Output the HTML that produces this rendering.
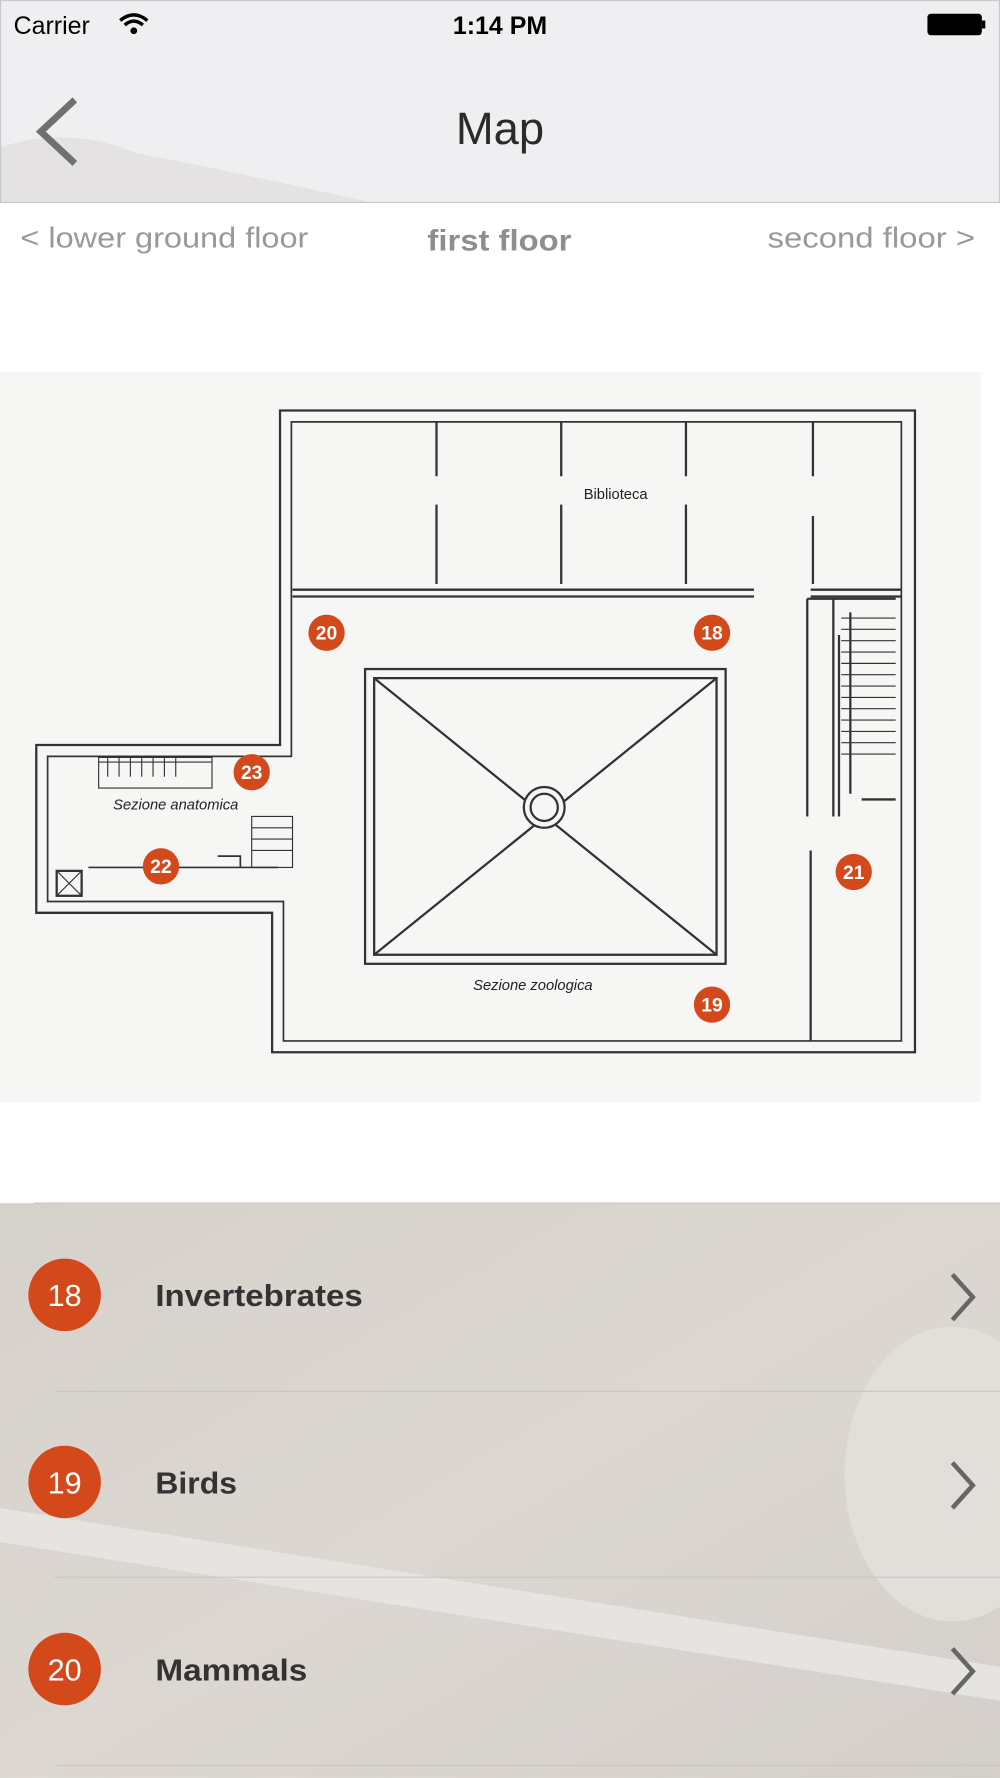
<!DOCTYPE html>
<html><head><meta charset="utf-8"><style>
html,body{margin:0;padding:0;background:#fff;width:1000px;height:1778px;overflow:hidden}
svg{display:block}
text{font-family:"Liberation Sans",sans-serif}
</style></head><body>
<svg width="1000" height="1778" viewBox="0 0 882 1568" xmlns="http://www.w3.org/2000/svg">
<defs>
<linearGradient id="lg" x1="0" y1="0" x2="1" y2="1">
<stop offset="0" stop-color="#d6d1cb"/><stop offset="0.5" stop-color="#dcd7d1"/><stop offset="1" stop-color="#d4cfca"/>
</linearGradient>
</defs>
<!-- header -->
<rect x="0" y="0" width="882" height="179" fill="#efeff1"/>
<path d="M0 130 Q60 110 120 135 Q200 150 330 179 L0 179Z" fill="#e4e2e2"/>
<rect x="0.5" y="0.5" width="881" height="178" fill="none" stroke="#c8c8ca"/>
<text x="12" y="30" font-size="22" fill="#000">Carrier</text>
<path d="M106 18 Q118 8 130 18 M110 22 Q118 15 126 22" stroke="#000" stroke-width="3" fill="none"/>
<circle cx="118" cy="27" r="3" fill="#000"/>
<text x="441" y="30" font-size="22" font-weight="bold" fill="#000" text-anchor="middle">1:14 PM</text>
<rect x="818" y="12" width="48" height="19" rx="3" fill="#000"/><rect x="866" y="18" width="3" height="7" fill="#000"/>
<path d="M66 88 L36 116 L66 144" stroke="#707070" stroke-width="6" fill="none"/>
<text x="441" y="127" font-size="40" fill="#2a2a2a" text-anchor="middle">Map</text>
<text x="18" y="218" font-size="25" fill="#999" textLength="254" lengthAdjust="spacingAndGlyphs">&lt; lower ground floor</text>
<text x="377" y="221" font-size="26" font-weight="bold" fill="#8e8e8e" textLength="127" lengthAdjust="spacingAndGlyphs">first floor</text>
<text x="677" y="218" font-size="25" fill="#999" textLength="183" lengthAdjust="spacingAndGlyphs">second floor &gt;</text>
<!-- map -->
<rect x="0" y="328" width="865" height="644" fill="#f6f6f5"/>
<g fill="none" stroke="#333" stroke-width="2">
<path d="M247 362 L807 362 L807 928 L240 928 L240 805 L32 805 L32 657 L247 657 Z"/>
<path d="M257 372 L795 372 L795 918 L250 918 L250 795 L42 795 L42 667 L257 667 Z" stroke-width="1.5"/>
<path d="M258 520 L665 520 M258 526 L665 526 M715 520 L795 520 M715 526 L795 526"/>
<path d="M385 372 V420 M385 445 V515 M495 372 V420 M495 445 V515 M605 372 V420 M605 445 V515 M717 372 V420 M717 455 V515"/>
<rect x="322" y="590" width="318" height="260"/>
<rect x="330" y="598" width="302" height="244"/>
<path d="M330 598 L632 842 M632 598 L330 842"/>
<circle cx="480" cy="712" r="18" fill="#f6f6f5"/><circle cx="480" cy="712" r="12"/>
<path d="M712 528 H790 M712 528 V720 M735 528 V720 M740 560 V720 M715 750 V918 M750 540 V700 M760 705 H790"/>
<path d="M742 545 H790 M742 555 H790 M742 565 H790 M742 575 H790 M742 585 H790 M742 595 H790 M742 605 H790 M742 615 H790 M742 625 H790 M742 635 H790 M742 645 H790 M742 655 H790 M742 665 H790" stroke-width="1"/>
<path d="M87 668 H187 V695 H87 Z M87 672 H187 M95 668 V685 M105 668 V685 M115 668 V685 M125 668 V685 M135 668 V685 M145 668 V685 M155 668 V685" stroke-width="1"/>
<path d="M222 720 H258 V765 H222 Z M222 730 H258 M222 740 H258 M222 750 H258" stroke-width="1"/>
<path d="M78 765 H245 M192 755 H212 V765" stroke-width="1.5"/>
<rect x="50" y="768" width="22" height="22"/><path d="M50 768 L72 790 M72 768 L50 790" stroke-width="1"/>
</g>
<text x="543" y="440" font-size="13" fill="#222" text-anchor="middle">Biblioteca</text>
<text x="155" y="714" font-size="13" font-style="italic" fill="#222" text-anchor="middle">Sezione anatomica</text>
<text x="470" y="873" font-size="13" font-style="italic" fill="#222" text-anchor="middle">Sezione zoologica</text>
<g font-size="17" font-weight="bold" fill="#fff" text-anchor="middle">
<circle cx="288" cy="558" r="16" fill="#d4491c"/><text x="288" y="564">20</text>
<circle cx="628" cy="558" r="16" fill="#d4491c"/><text x="628" y="564">18</text>
<circle cx="222" cy="681" r="16" fill="#d4491c"/><text x="222" y="687">23</text>
<circle cx="142" cy="764" r="16" fill="#d4491c"/><text x="142" y="770">22</text>
<circle cx="753" cy="769" r="16" fill="#d4491c"/><text x="753" y="775">21</text>
<circle cx="628" cy="886" r="16" fill="#d4491c"/><text x="628" y="892">19</text>
</g>
<!-- list -->
<rect x="0" y="1061" width="882" height="507" fill="url(#lg)"/>
<path d="M0 1330 L882 1470 L882 1500 L0 1360Z" fill="#e6e4e1"/>
<ellipse cx="840" cy="1300" rx="95" ry="130" fill="#e2dfdb"/>
<line x1="30" y1="1061" x2="882" y2="1061" stroke="#c8c6c4"/>
<line x1="48" y1="1227" x2="882" y2="1227" stroke="#c9c6c2"/>
<line x1="48" y1="1391" x2="882" y2="1391" stroke="#c9c6c2"/>
<line x1="48" y1="1557" x2="882" y2="1557" stroke="#c9c6c2"/>
<g font-size="27" fill="#fff" text-anchor="middle">
<circle cx="57" cy="1142" r="32" fill="#d4491c"/><text x="57" y="1152">18</text>
<circle cx="57" cy="1307" r="32" fill="#d4491c"/><text x="57" y="1317">19</text>
<circle cx="57" cy="1472" r="32" fill="#d4491c"/><text x="57" y="1482">20</text>
</g>
<g font-size="27" font-weight="bold" fill="#333">
<text x="137" y="1152" textLength="183" lengthAdjust="spacingAndGlyphs">Invertebrates</text>
<text x="137" y="1317" textLength="72" lengthAdjust="spacingAndGlyphs">Birds</text>
<text x="137" y="1482" textLength="134" lengthAdjust="spacingAndGlyphs">Mammals</text>
</g>
<g stroke="#666" stroke-width="4" fill="none">
<path d="M840 1124 L858 1144 L840 1164"/>
<path d="M840 1290 L858 1310 L840 1330"/>
<path d="M840 1454 L858 1474 L840 1494"/>
</g>
</svg>
</body></html>
